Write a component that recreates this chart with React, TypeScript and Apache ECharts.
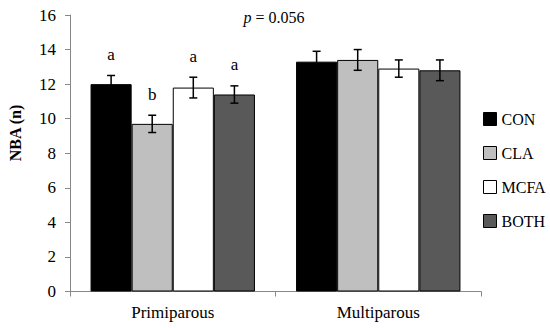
import React, { useEffect, useRef } from "react";
import * as echarts from "echarts";

const categories = ["Primiparous", "Multiparous"];
const seriesNames = ["CON", "CLA", "MCFA", "BOTH"];
const seriesColors = ["#000000", "#bfbfbf", "#ffffff", "#595959"];
const conValues = [12.0, 13.3];
const claValues = [9.7, 13.4];
const mcfaValues = [11.8, 12.9];
const bothValues = [11.4, 12.8];
const conErr = [0.5, 0.6];
const claErr = [0.5, 0.6];
const mcfaErr = [0.6, 0.5];
const bothErr = [0.5, 0.6];
const conLetters = ["a", ""];
const claLetters = ["b", ""];
const mcfaLetters = ["a", ""];
const bothLetters = ["a", ""];
const yTicks = [0, 2, 4, 6, 8, 10, 12, 14, 16];

const FONT = "'Liberation Serif', serif";

export default function App() {
  const ref = useRef<HTMLDivElement>(null);
  useEffect(() => {
    document.body.style.margin = "0";
    if (!ref.current) return;
    const chart = echarts.init(ref.current, null, { renderer: "svg" });
    const values = [conValues, claValues, mcfaValues, bothValues];
    const errs = [conErr, claErr, mcfaErr, bothErr];
    const letters = [conLetters, claLetters, mcfaLetters, bothLetters];
    const errData: number[][] = [];
    values.forEach((vals, si) => {
      vals.forEach((v, ci) => errData.push([ci, si, v, errs[si][ci]]));
    });
    const n = seriesNames.length;
    chart.setOption({
      animation: false,
      grid: { left: 70, right: 69, top: 15, bottom: 36.5 },
      legend: {
        data: seriesNames,
        orient: "vertical",
        left: 483,
        top: 111,
        itemWidth: 13,
        itemHeight: 13,
        itemGap: 18,
        icon: "rect",
        padding: 0,
        itemStyle: { borderColor: "#000", borderWidth: 1 },
        textStyle: { fontFamily: FONT, fontSize: 16, color: "#000" },
      },
      xAxis: {
        type: "category",
        data: categories,
        axisLine: { lineStyle: { color: "#888", width: 1 } },
        axisTick: { show: true, length: 5, lineStyle: { color: "#888" } },
        axisLabel: { fontFamily: FONT, fontSize: 17, color: "#000", margin: 12 },
      },
      yAxis: {
        type: "value",
        min: yTicks[0],
        max: yTicks[yTicks.length - 1],
        interval: 2,
        splitLine: { show: false },
        axisLine: { show: true, lineStyle: { color: "#888", width: 1 } },
        axisTick: { show: true, length: 5, lineStyle: { color: "#888" } },
        axisLabel: { fontFamily: FONT, fontSize: 17, color: "#000", margin: 14 },
      },
      graphic: [
        {
          type: "text",
          x: 15,
          y: 133,
          rotation: Math.PI / 2,
          style: {
            text: "NBA (n)",
            font: `bold 16px ${FONT}`,
            fill: "#000",
            textAlign: "center",
            textVerticalAlign: "middle",
          },
        },
        {
          type: "text",
          x: 274,
          y: 17,
          style: {
            text: "{i|p} = 0.056",
            font: `16px ${FONT}`,
            fill: "#000",
            textAlign: "center",
            textVerticalAlign: "middle",
            rich: { i: { fontStyle: "italic", fontFamily: FONT, fontSize: 16 } },
          },
        },
      ],
      series: [
        ...seriesNames.map((name, si) => ({
          name,
          type: "bar",
          data: values[si],
          barGap: "0%",
          barCategoryGap: "20%",
          itemStyle: { color: seriesColors[si], borderColor: "#000", borderWidth: 1 },
        })),
        {
          name: "err",
          type: "custom",
          data: errData,
          z: 10,
          renderItem: (params: any, api: any) => {
            const ci = api.value(0);
            const si = api.value(1);
            const v = api.value(2);
            const e = api.value(3);
            const catW = api.size([1, 0])[0];
            const bw = (catW * 0.8) / n;
            const cx = api.coord([ci, 0])[0] + (si - (n - 1) / 2) * bw;
            const top = api.coord([ci, v + e])[1];
            const bot = api.coord([ci, v - e])[1];
            const cap = 4;
            const ls = { stroke: "#000", lineWidth: 1.5 };
            const children: any[] = [
              { type: "line", shape: { x1: cx, y1: top, x2: cx, y2: bot }, style: ls },
              { type: "line", shape: { x1: cx - cap, y1: top, x2: cx + cap, y2: top }, style: ls },
              { type: "line", shape: { x1: cx - cap, y1: bot, x2: cx + cap, y2: bot }, style: ls },
            ];
            const letter = letters[si][ci];
            if (letter) {
              children.push({
                type: "text",
                x: cx,
                y: top - 21,
                style: {
                  text: letter,
                  font: `17px ${FONT}`,
                  fill: "#000",
                  textAlign: "center",
                  textVerticalAlign: "middle",
                },
              });
            }
            return { type: "group", children };
          },
        },
      ],
    });
    return () => chart.dispose();
  }, []);
  return <div ref={ref} style={{ width: 550, height: 328 }} />;
}
